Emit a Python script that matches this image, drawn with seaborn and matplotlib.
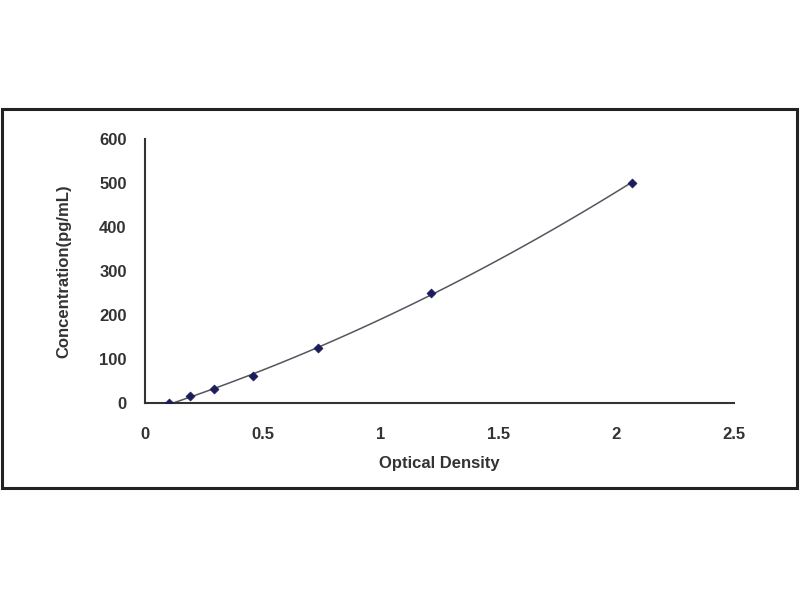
import numpy as np
import pandas as pd
import matplotlib
matplotlib.use("Agg")
import matplotlib.pyplot as plt
import seaborn as sns
from matplotlib.patches import Rectangle

# -------------------------------
# DATA (standard curve)
# -------------------------------
od_values = [0.104, 0.192, 0.294, 0.458, 0.735, 1.217, 2.068]
conc_values = [0, 15.6, 31.25, 62.5, 125, 250, 500]
x_ticks = [0, 0.5, 1, 1.5, 2, 2.5]
y_ticks = [0, 100, 200, 300, 400, 500, 600]

df = pd.DataFrame({"od": od_values, "conc": conc_values})

sns.set_style("white")
plt.rcParams["font.family"] = ["Liberation Sans", "DejaVu Sans"]

fig = plt.figure(figsize=(8, 6), dpi=100)
ax = fig.add_axes([0.181, 0.328, 0.736, 0.441])

# fitted curve + points
sns.regplot(data=df, x="od", y="conc", order=2, ci=None, truncate=True,
            scatter=False, ax=ax,
            line_kws={"color": "#555560", "linewidth": 1.1})
sns.scatterplot(data=df, x="od", y="conc", ax=ax, marker="D", s=22,
                color="#1c1c5a", edgecolor="#1c1c5a", zorder=3)

ax.set_xlim(0, 2.5)
ax.set_ylim(0, 600)
ax.set_xticks(x_ticks)
ax.set_xticklabels(["0", "0.5", "1", "1.5", "2", "2.5"])
ax.set_yticks(y_ticks)
ax.tick_params(direction="in", length=5, width=1.2, color="#333333",
               labelsize=12)
ax.tick_params(axis="x", pad=17)
ax.tick_params(axis="y", pad=13)
for lab in ax.get_xticklabels() + ax.get_yticklabels():
    lab.set_fontweight("bold")
    lab.set_color("#333333")

for side in ["top", "right"]:
    ax.spines[side].set_visible(False)
for side in ["left", "bottom"]:
    ax.spines[side].set_color("#333333")
    ax.spines[side].set_linewidth(1.5)

ax.set_xlabel("Optical Density", fontsize=12, fontweight="bold",
              color="#333333", labelpad=10)
ax.set_ylabel("Concentration(pg/mL)", fontsize=12, fontweight="bold",
              color="#333333", labelpad=20)

# outer frame
fig.patches.append(Rectangle((0.003, 0.187), 0.993, 0.631,
                             transform=fig.transFigure, fill=False,
                             edgecolor="#222222", linewidth=2.2))

fig.savefig("out.png", dpi=100, facecolor="white")
